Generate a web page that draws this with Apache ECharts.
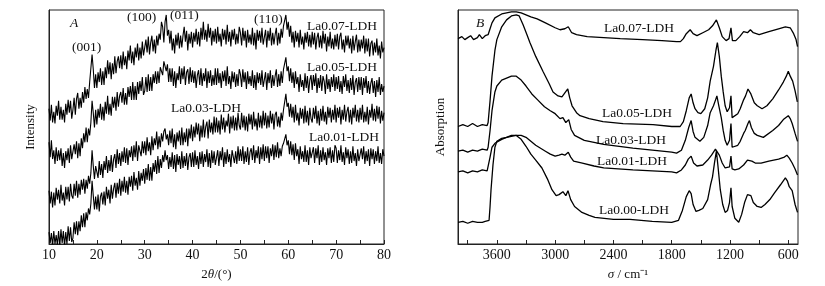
<!DOCTYPE html>
<html>
<head>
<meta charset="utf-8">
<script src="https://cdn.jsdelivr.net/npm/echarts@6/dist/echarts.min.js"></script>
<style>
  html, body { margin: 0; padding: 0; background: #fff; }
  #main { width: 825px; height: 286px; }
</style>
</head>
<body>
<div id="main"></div>
<script>
// XRD patterns, 2theta from 10 to 80 in 0.25 steps (intensity, arbitrary units)
var xrdStart = 10, xrdStep = 0.25;
var xrdLa007 = [
  137,125,141,123,134,122,140,130,145,126,139,126,136,123,142,131,146,133,145,127,
  136,148,131,147,153,137,148,138,154,143,159,147,157,148,164,163,192,177,158,172,
  158,174,164,178,161,175,161,179,168,186,172,184,167,183,172,190,173,185,190,178,
  191,177,195,181,190,177,196,186,201,183,195,181,199,189,203,186,199,188,205,191,
  191,207,194,210,192,204,211,195,207,193,211,201,213,207,225,220,204,225,232,211,
  217,203,216,196,208,193,212,201,214,198,211,199,211,220,205,216,196,213,203,215,
  199,214,205,218,202,215,200,219,207,225,207,217,205,223,209,219,201,216,205,218,
  203,220,205,213,200,218,207,217,202,222,205,215,200,217,207,218,202,213,203,220,
  214,201,219,206,216,199,217,204,212,202,219,201,214,197,217,206,216,204,219,202,
  204,217,199,216,206,219,201,214,202,212,219,201,214,203,218,209,221,219,232,217,
  225,210,221,204,215,199,216,205,214,199,217,202,210,197,214,204,215,200,212,199,
  215,202,214,197,209,214,199,211,198,216,203,213,195,210,200,215,198,208,197,212,
  200,213,197,210,214,197,207,194,211,201,211,198,208,193,211,196,205,212,194,207,
  195,207,198,211,193,208,195,208,190,203,206,191,204,194,208,191,201,188,205,194,
  199
];
var xrdLa005 = [
  103,88,105,86,95,81,98,84,95,85,97,79,92,77,94,85,97,82,100,86,
  85,101,91,104,87,102,89,107,97,112,103,118,103,117,110,123,145,133,118,136,
  121,137,128,142,126,139,125,144,132,150,131,142,130,149,138,149,135,154,139,150,
  154,143,158,141,153,141,159,149,160,146,164,146,160,146,164,152,165,155,169,151,
  155,169,154,172,155,169,155,172,163,175,162,175,163,179,181,171,185,187,175,182,
  164,178,164,178,160,175,158,173,166,180,162,178,167,180,161,174,177,162,179,164,
  176,163,175,158,171,176,161,178,160,173,165,178,158,175,163,176,160,171,161,178,
  161,178,163,173,158,175,165,176,160,180,162,170,157,175,164,174,159,172,160,177,
  172,159,177,164,174,157,175,162,170,160,176,158,171,156,174,163,173,161,176,159,
  161,174,156,173,163,176,158,171,160,170,177,159,172,160,175,163,177,177,189,175,
  180,165,178,163,174,158,175,162,169,154,172,159,166,155,173,158,170,153,166,171,
  156,171,160,173,153,168,158,171,155,170,165,152,172,157,167,154,169,159,172,155,
  169,157,170,154,165,152,170,159,172,155,166,153,168,156,171,151,164,168,154,169,
  156,169,151,168,158,170,153,165,152,163,168,153,165,149,166,154,169,151,162,154,
  160
];
var xrdLa003 = [
  54,41,53,37,52,39,57,45,55,41,60,44,52,39,58,45,58,43,61,49,
  46,61,49,64,47,61,50,65,55,66,51,65,56,69,61,72,95,79,66,79,
  81,67,84,70,81,67,84,75,89,72,85,74,90,73,86,91,77,96,81,92,
  79,94,83,98,82,97,80,95,88,99,84,100,88,104,84,100,102,89,104,92,
  104,90,108,94,103,90,109,95,107,100,114,96,109,98,112,104,114,117,106,111,
  100,115,102,117,98,111,96,113,104,115,100,118,100,113,103,117,99,117,107,121,
  104,119,108,123,111,122,104,120,108,126,108,119,124,107,126,113,123,111,129,113,
  128,113,125,111,131,116,128,113,125,119,132,112,129,117,130,115,128,115,133,120,
  116,133,118,130,115,129,114,132,121,131,116,134,119,127,115,133,118,130,117,135,
  120,133,117,130,118,135,122,132,116,131,134,119,129,118,133,125,136,136,152,139,
  143,129,142,128,139,123,141,125,133,120,138,127,137,122,140,123,135,120,138,127,
  123,138,127,140,122,135,120,137,125,140,124,134,121,139,128,138,123,136,126,141,
  123,138,128,139,121,136,126,141,124,134,139,123,136,121,138,128,141,124,136,123,
  138,126,141,123,134,124,139,121,136,128,142,125,137,124,140,127,139,122,135,125,
  133
];
var xrdLa001 = [
  12,1,11,-2,13,0,9,-1,13,-2,15,1,13,-2,12,0,18,3,17,2,
  6,22,10,23,9,23,13,29,17,31,17,32,24,36,30,41,64,49,35,48,
  35,50,33,48,52,40,53,39,58,46,55,41,60,46,56,62,47,62,51,66,
  49,64,53,68,52,64,50,68,58,69,54,73,59,67,55,74,59,72,64,76,
  61,77,65,81,64,78,64,82,73,85,71,89,72,86,77,90,83,95,85,90,
  76,88,78,93,76,90,73,91,80,89,76,94,77,89,79,92,75,88,92,78,
  93,78,95,80,89,76,93,81,94,78,91,83,96,78,92,77,95,82,94,80,
  82,95,79,94,85,98,78,93,81,96,83,91,78,95,97,82,94,81,99,84,
  96,84,99,81,94,83,98,80,93,97,85,100,82,95,87,99,81,98,86,101,
  84,99,87,99,82,97,89,101,85,100,88,103,87,97,89,99,102,101,111,100,
  105,91,104,90,101,85,102,89,96,81,99,86,94,83,100,83,95,80,98,87,
  85,98,82,97,87,100,80,95,83,98,85,93,80,97,87,98,82,95,83,100,
  97,82,95,85,100,83,93,80,98,87,96,81,94,82,99,84,92,79,96,84,
  82,97,86,99,81,94,84,96,79,97,86,96,81,94,84,99,82,92,81,96,
  89
];
var xrdTickLabels = [10, 20, 30, 40, 50, 60, 70, 80];

// IR spectra: [wavenumber cm-1, absorption]
var irLa007 = [[4000,208],[3960,210],[3930,207],[3900,209],[3870,211],[3840,207],[3800,209],[3780,212],[3750,208],[3720,211],[3700,209],[3690,212],[3670,218],[3650,224],[3620,229],[3600,231],[3550,233],[3500,234],[3450,235],[3400,235],[3350,234],[3300,232],[3250,230],[3185,228],[3100,224],[3000,219],[2950,217],[2900,218],[2865,220],[2830,214],[2780,212],[2670,210],[2500,209],[2330,208],[2100,207],[1900,206],[1750,205],[1710,205],[1680,208],[1650,213],[1610,217],[1580,213],[1540,211],[1480,214],[1420,217],[1380,221],[1340,227],[1310,219],[1280,210],[1240,206],[1210,208],[1190,219],[1175,206],[1140,206],[1100,210],[1060,215],[1040,217],[1020,214],[990,217],[960,214],[900,212],[800,215],[700,218],[630,220],[580,219],[545,213],[520,207],[505,200]];
var irLa005 = [[4000,119],[3950,121],[3900,119],[3850,122],[3800,119],[3750,121],[3700,120],[3690,123],[3670,145],[3650,170],[3620,196],[3600,207],[3550,220],[3500,227],[3450,231],[3400,232],[3370,231],[3330,222],[3290,212],[3260,204],[3200,190],[3126,175],[3060,162],[3022,154],[2970,150],[2930,149],[2900,153],[2870,157],[2850,148],[2826,140],[2780,133],[2744,130],[2650,127],[2507,124],[2300,122],[1992,121],[1800,119],[1713,119],[1680,124],[1650,135],[1620,148],[1600,152],[1580,143],[1560,137],[1530,133],[1500,132],[1460,137],[1430,148],[1404,165],[1370,180],[1345,196],[1330,204],[1310,190],[1290,170],[1270,154],[1250,140],[1229,134],[1205,138],[1190,150],[1178,128],[1160,127],[1120,132],[1095,137],[1060,146],[1040,150],[1015,157],[1000,159],[985,152],[950,143],[919,140],[870,137],[820,140],[760,147],[700,156],[651,164],[620,170],[600,175],[580,170],[555,165],[530,155],[507,144]];
var irLa003 = [[4000,94],[3950,95],[3900,93],[3850,95],[3800,94],[3750,96],[3700,95],[3690,98],[3670,115],[3650,135],[3620,154],[3600,160],[3550,166],[3500,168],[3450,170],[3400,170],[3350,166],[3300,160],[3240,152],[3180,146],[3110,139],[3050,135],[3000,132],[2950,127],[2920,128],[2890,123],[2860,126],[2835,116],[2800,110],[2700,105],[2600,103],[2500,101],[2200,97],[2000,95],[1800,93],[1750,92],[1700,95],[1660,105],[1625,118],[1600,125],[1580,114],[1560,108],[1510,104],[1470,108],[1430,120],[1404,133],[1370,140],[1345,147],[1335,150],[1315,140],[1290,128],[1270,115],[1250,105],[1229,100],[1205,105],[1190,122],[1178,98],[1167,96],[1120,100],[1095,104],[1060,112],[1043,115],[1015,122],[1000,125],[980,118],[950,112],[919,110],[857,108],[760,115],[700,120],[651,126],[600,130],[580,127],[560,122],[530,112],[505,104]];
var irLa001 = [[4000,73],[3950,74],[3900,72],[3850,74],[3800,73],[3750,75],[3700,74],[3690,76],[3670,88],[3650,98],[3620,102],[3600,104],[3550,106],[3500,108],[3450,109],[3400,110],[3350,110],[3300,108],[3250,104],[3200,100],[3150,97],[3100,94],[3050,91],[3000,89],[2960,90],[2930,91],[2900,90],[2865,93],[2840,88],[2810,84],[2720,82],[2600,79],[2500,77],[2200,75],[2000,74],[1800,73],[1750,72],[1700,75],[1660,80],[1630,86],[1600,89],[1575,82],[1540,79],[1480,80],[1430,85],[1390,90],[1350,96],[1335,97],[1310,90],[1280,82],[1250,77],[1230,75],[1205,78],[1190,89],[1178,76],[1150,75],[1110,76],[1060,80],[1020,85],[1000,87],[975,84],[940,82],[880,82],[800,84],[700,86],[640,88],[615,90],[590,87],[560,82],[530,76],[505,70]];
var irLa000 = [[4000,22],[3950,23],[3900,21],[3850,23],[3800,22],[3780,24],[3750,22],[3720,23],[3700,21],[3680,24],[3670,38],[3660,55],[3640,80],[3620,98],[3600,104],[3550,107],[3500,108],[3450,110],[3400,110],[3350,106],[3300,99],[3250,91],[3200,85],[3136,77],[3080,66],[3033,55],[2990,49],[2960,50],[2920,53],[2890,49],[2868,54],[2840,45],[2800,38],[2724,32],[2650,29],[2590,27],[2400,25],[2229,25],[2000,23],[1800,22],[1730,24],[1690,34],[1650,48],[1620,54],[1600,51],[1580,40],[1550,33],[1520,34],[1500,32],[1480,36],[1460,34],[1430,45],[1400,60],[1380,68],[1360,82],[1340,94],[1325,80],[1300,55],[1275,40],[1250,32],[1225,34],[1205,42],[1190,57],[1178,38],[1150,26],[1110,22],[1080,30],[1050,42],[1020,50],[1000,52],[985,49],[960,42],[920,38],[880,37],[840,40],[790,45],[740,52],[680,60],[630,67],[610,64],[590,58],[560,54],[530,40],[505,32]];
var irTickValues = [600,900,1200,1500,1800,2100,2400,2700,3000,3300,3600,3900];
var irLabelValues = [600,1200,1800,2400,3000,3600];

var serif = "'Liberation Serif', 'Times New Roman', serif";

function xrdPairs(arr) {
    var out = [];
    for (var i = 0; i < arr.length; i++) {
        out.push([xrdStart + i * xrdStep, arr[i]]);
    }
    return out;
}

function lineSeries(data, xi, w) {
    return {
        type: 'line', xAxisIndex: xi, yAxisIndex: xi, data: data,
        showSymbol: false, symbol: 'none', silent: true,
        lineStyle: { color: '#000', width: w }
    };
}

function txt(x, y, s, size, italic) {
    return {
        type: 'text', left: x, top: y,
        style: { text: s, fill: '#111', font: (italic ? 'italic ' : '') + size + 'px ' + serif }
    };
}

var chart = echarts.init(document.getElementById('main'), null, { renderer: 'canvas' });
var option = {
    animation: false,
    backgroundColor: '#fff',
    grid: [
        { left: 49, top: 10, width: 335, height: 237, show: true, borderColor: '#222', borderWidth: 1 },
        { left: 458, top: 10, width: 340, height: 237, show: true, borderColor: '#222', borderWidth: 1 }
    ],
    xAxis: [
        {
            gridIndex: 0, type: 'value', min: 10, max: 80, interval: 5,
            axisLine: { lineStyle: { color: '#222' } },
            axisTick: { inside: true, length: 4, lineStyle: { color: '#222' } },
            splitLine: { show: false },
            axisLabel: {
                margin: 4, fontFamily: serif, fontSize: 14, color: '#111',
                formatter: function (v) { return xrdTickLabels.indexOf(v) >= 0 ? String(v) : ''; }
            },
            name: '2{i|θ}/(°)', nameLocation: 'middle', nameGap: 24,
            nameTextStyle: { fontFamily: serif, fontSize: 13, color: '#111',
                rich: { i: { fontFamily: serif, fontSize: 13, fontStyle: 'italic', color: '#111' } } }
        },
        {
            gridIndex: 1, type: 'value', min: 500, max: 4000, inverse: true,
            axisLine: { lineStyle: { color: '#222' } },
            axisTick: { inside: true, length: 4, customValues: irTickValues, lineStyle: { color: '#222' } },
            splitLine: { show: false },
            axisLabel: {
                margin: 4, fontFamily: serif, fontSize: 14, color: '#111', customValues: irLabelValues,
                formatter: function (v) { return String(v); }
            },
            name: '{i|σ} / cm⁻¹', nameLocation: 'middle', nameGap: 24,
            nameTextStyle: { fontFamily: serif, fontSize: 13, color: '#111',
                rich: { i: { fontFamily: serif, fontSize: 13, fontStyle: 'italic', color: '#111' } } }
        }
    ],
    yAxis: [
        {
            gridIndex: 0, type: 'value', min: 0, max: 237,
            axisLine: { show: true, lineStyle: { color: '#222' } },
            axisTick: { show: false }, axisLabel: { show: false }, splitLine: { show: false },
            name: 'Intensity', nameLocation: 'middle', nameGap: 12,
            nameTextStyle: { fontFamily: serif, fontSize: 13, color: '#111' }
        },
        {
            gridIndex: 1, type: 'value', min: 0, max: 237,
            axisLine: { show: true, lineStyle: { color: '#222' } },
            axisTick: { show: false }, axisLabel: { show: false }, splitLine: { show: false },
            name: 'Absorption', nameLocation: 'middle', nameGap: 11,
            nameTextStyle: { fontFamily: serif, fontSize: 13, color: '#111' }
        }
    ],
    series: [
        lineSeries(xrdPairs(xrdLa007), 0, 1.1),
        lineSeries(xrdPairs(xrdLa005), 0, 1.1),
        lineSeries(xrdPairs(xrdLa003), 0, 1.1),
        lineSeries(xrdPairs(xrdLa001), 0, 1.1),
        lineSeries(irLa007, 1, 1.3),
        lineSeries(irLa005, 1, 1.3),
        lineSeries(irLa003, 1, 1.3),
        lineSeries(irLa001, 1, 1.3),
        lineSeries(irLa000, 1, 1.3)
    ],
    graphic: [
        txt(70, 16, 'A', 13.5, true),
        txt(72, 40, '(001)', 13.5),
        txt(127, 10, '(100)', 13.5),
        txt(170, 8, '(011)', 13.5),
        txt(254, 12, '(110)', 13.5),
        txt(307, 19, 'La0.07-LDH', 13.5),
        txt(307, 60, 'La0.05-LDH', 13.5),
        txt(171, 101, 'La0.03-LDH', 13.5),
        txt(309, 130, 'La0.01-LDH', 13.5),
        txt(476, 16, 'B', 13.5, true),
        txt(604, 21, 'La0.07-LDH', 13.5),
        txt(602, 106, 'La0.05-LDH', 13.5),
        txt(596, 133, 'La0.03-LDH', 13.5),
        txt(597, 154, 'La0.01-LDH', 13.5),
        txt(599, 203, 'La0.00-LDH', 13.5)
    ]
};
chart.setOption(option);
</script>
</body>
</html>
